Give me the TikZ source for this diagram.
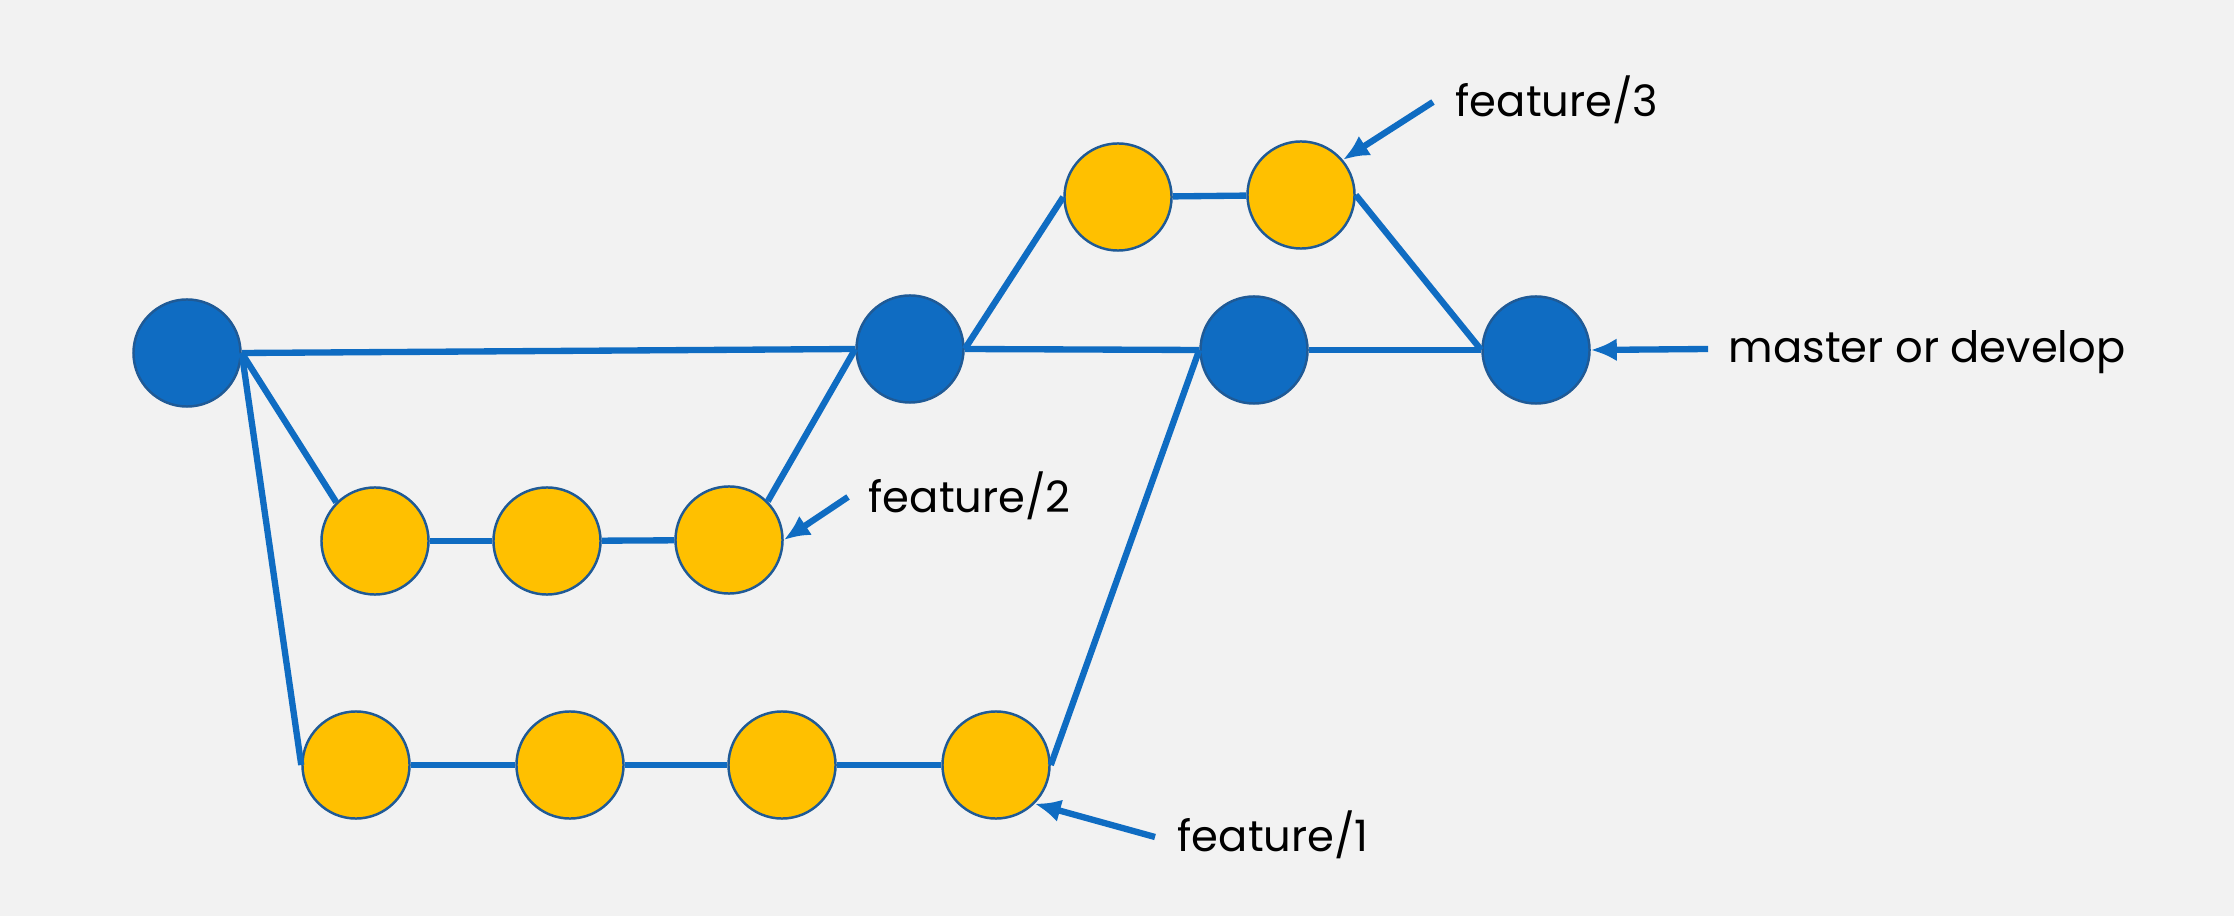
\documentclass[tikz,border=0pt]{standalone}
\usepackage{fontspec}
\setmainfont{Poppins}
\usepackage{xcolor}
\usetikzlibrary{arrows.meta,positioning}

\definecolor{bgcol}{HTML}{F2F2F2}
\definecolor{mainblue}{HTML}{0F6CC2}
\definecolor{rimblue}{HTML}{1F5A96}
\definecolor{gold}{HTML}{FFC000}

\begin{document}
\begin{tikzpicture}[
  x=0.01cm, y=-0.01cm,
  commit/.style={circle, draw=rimblue, line width=0.7pt, minimum size=1.07cm, inner sep=0pt},
  mainc/.style={commit, fill=mainblue},
  featc/.style={commit, fill=gold},
  link/.style={draw=mainblue, line width=1.8pt},
  ptr/.style={draw=mainblue, line width=1.8pt, -{Latex[length=2.6mm, width=2.3mm]}},
  lbl/.style={anchor=base west, inner sep=0pt, font=\fontsize{12.3}{15}\selectfont}
]
\fill[bgcol] (0,0) rectangle (2234,916);
\useasboundingbox (0,0) rectangle (2234,916);

% master / develop line
\node[mainc] (m1) at (187,353) {};
\node[mainc] (m2) at (910,349) {};
\node[mainc] (m3) at (1254,350) {};
\node[mainc] (m4) at (1536,350) {};

% feature branches
\node[featc] (f1a) at (356,765) {};
\node[featc] (f1b) at (570,765) {};
\node[featc] (f1c) at (782,765) {};
\node[featc] (f1d) at (996,765) {};

\node[featc] (f2a) at (375,541) {};
\node[featc] (f2b) at (547,541) {};
\node[featc] (f2c) at (729,540) {};

\node[featc] (f3a) at (1118,197) {};
\node[featc] (f3b) at (1301,195) {};

% labels
\node[lbl] (l3) at (1455,117) {feature/3};
\node[lbl] (lm) at (1728,363) {master or develop};
\node[lbl] (l2) at (868,513) {feature/2};
\node[lbl] (l1) at (1177,851) {feature/1};

\coordinate (t3) at (1433,102);
\coordinate (tm) at (1708,349);
\coordinate (t2) at (848,497);
\coordinate (t1) at (1155,837);

% links
\draw[link] (m1.east) -- (m2.west);
\draw[link] (m1.east) -- (f2a.135);
\draw[link] (m1.east) -- (f1a.west);
\draw[link] (f2a) -- (f2b);
\draw[link] (f2b) -- (f2c);
\draw[link] (f2c.45) -- (m2.west);
\draw[link] (f1a) -- (f1b);
\draw[link] (f1b) -- (f1c);
\draw[link] (f1c) -- (f1d);
\draw[link] (f1d.east) -- (m3.west);
\draw[link] (m2.east) -- (m3.west);
\draw[link] (m3.east) -- (m4.west);
\draw[link] (m2.east) -- (f3a.west);
\draw[link] (f3a) -- (f3b);
\draw[link] (f3b.east) -- (m4.west);

% pointers
\draw[ptr] (t3) -- (f3b.40);
\draw[ptr] (tm) -- (m4.east);
\draw[ptr] (t2) -- (f2c.east);
\draw[ptr] (t1) -- (f1d.-45);
\end{tikzpicture}
\end{document}
